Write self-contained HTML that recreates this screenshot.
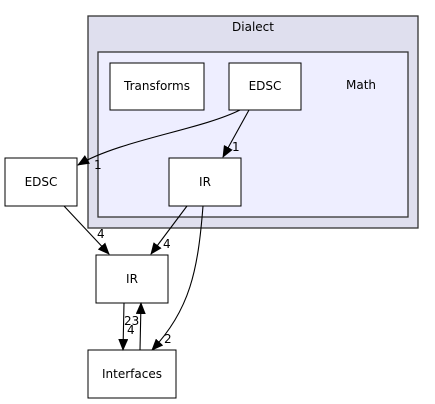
<!DOCTYPE html>
<html><head><meta charset="utf-8"><style>
html,body{margin:0;padding:0;background:#fff;}
svg{display:block;font-family:"DejaVu Sans","Liberation Sans",sans-serif;}
</style></head><body>
<svg width="435" height="404" viewBox="0 0 435 404" xmlns="http://www.w3.org/2000/svg">
<defs><marker id="a" markerWidth="12" markerHeight="10" refX="11" refY="5" orient="auto" markerUnits="userSpaceOnUse"><path d="M0,0 L12,5 L0,10 z" fill="#000"/></marker></defs>
<rect x="88" y="16" width="330" height="212" fill="#dfdfee" stroke="#333" stroke-width="1.3"/>
<text x="253" y="31" font-size="12" text-anchor="middle">Dialect</text>
<rect x="98" y="52" width="310" height="165" fill="#eeeeff" stroke="#333" stroke-width="1.3"/>
<text x="361" y="89" font-size="12" text-anchor="middle">Math</text>
<rect x="110" y="63" width="94" height="47" fill="#fff" stroke="#000"/>
<text x="157" y="90" font-size="12" text-anchor="middle">Transforms</text>
<rect x="229" y="63" width="72" height="47" fill="#fff" stroke="#000"/>
<text x="265" y="90" font-size="12" text-anchor="middle">EDSC</text>
<rect x="169" y="158" width="72" height="48" fill="#fff" stroke="#000"/>
<text x="205" y="186" font-size="12" text-anchor="middle">IR</text>
<rect x="5" y="158" width="72" height="48" fill="#fff" stroke="#000"/>
<text x="41" y="186" font-size="12" text-anchor="middle">EDSC</text>
<rect x="96" y="255" width="72" height="48" fill="#fff" stroke="#000"/>
<text x="132" y="283" font-size="12" text-anchor="middle">IR</text>
<rect x="88" y="350" width="88" height="48" fill="#fff" stroke="#000"/>
<text x="132" y="378" font-size="12" text-anchor="middle">Interfaces</text>
<g fill="none" stroke="#000" stroke-width="1.1">
<path d="M240,110 C200,130 120,140 78,165" marker-end="url(#a)"/>
<path d="M249,110 L223,157" marker-end="url(#a)"/>
<path d="M187,206 L151,254" marker-end="url(#a)"/>
<path d="M203,206 C198,270 190,310 152,350" marker-end="url(#a)"/>
<path d="M64,206 L109,254" marker-end="url(#a)"/>
<path d="M124,303 L123,350" marker-end="url(#a)"/>
<path d="M140,350 L141,303" marker-end="url(#a)"/>
</g>
<g font-size="12">
<text x="94" y="169">1</text>
<text x="232" y="151">1</text>
<text x="97" y="238">4</text>
<text x="163" y="248">4</text>
<text x="164" y="343">2</text>
<text x="124" y="325">23</text>
<text x="127" y="334">4</text>
</g>
</svg>
</body></html>
